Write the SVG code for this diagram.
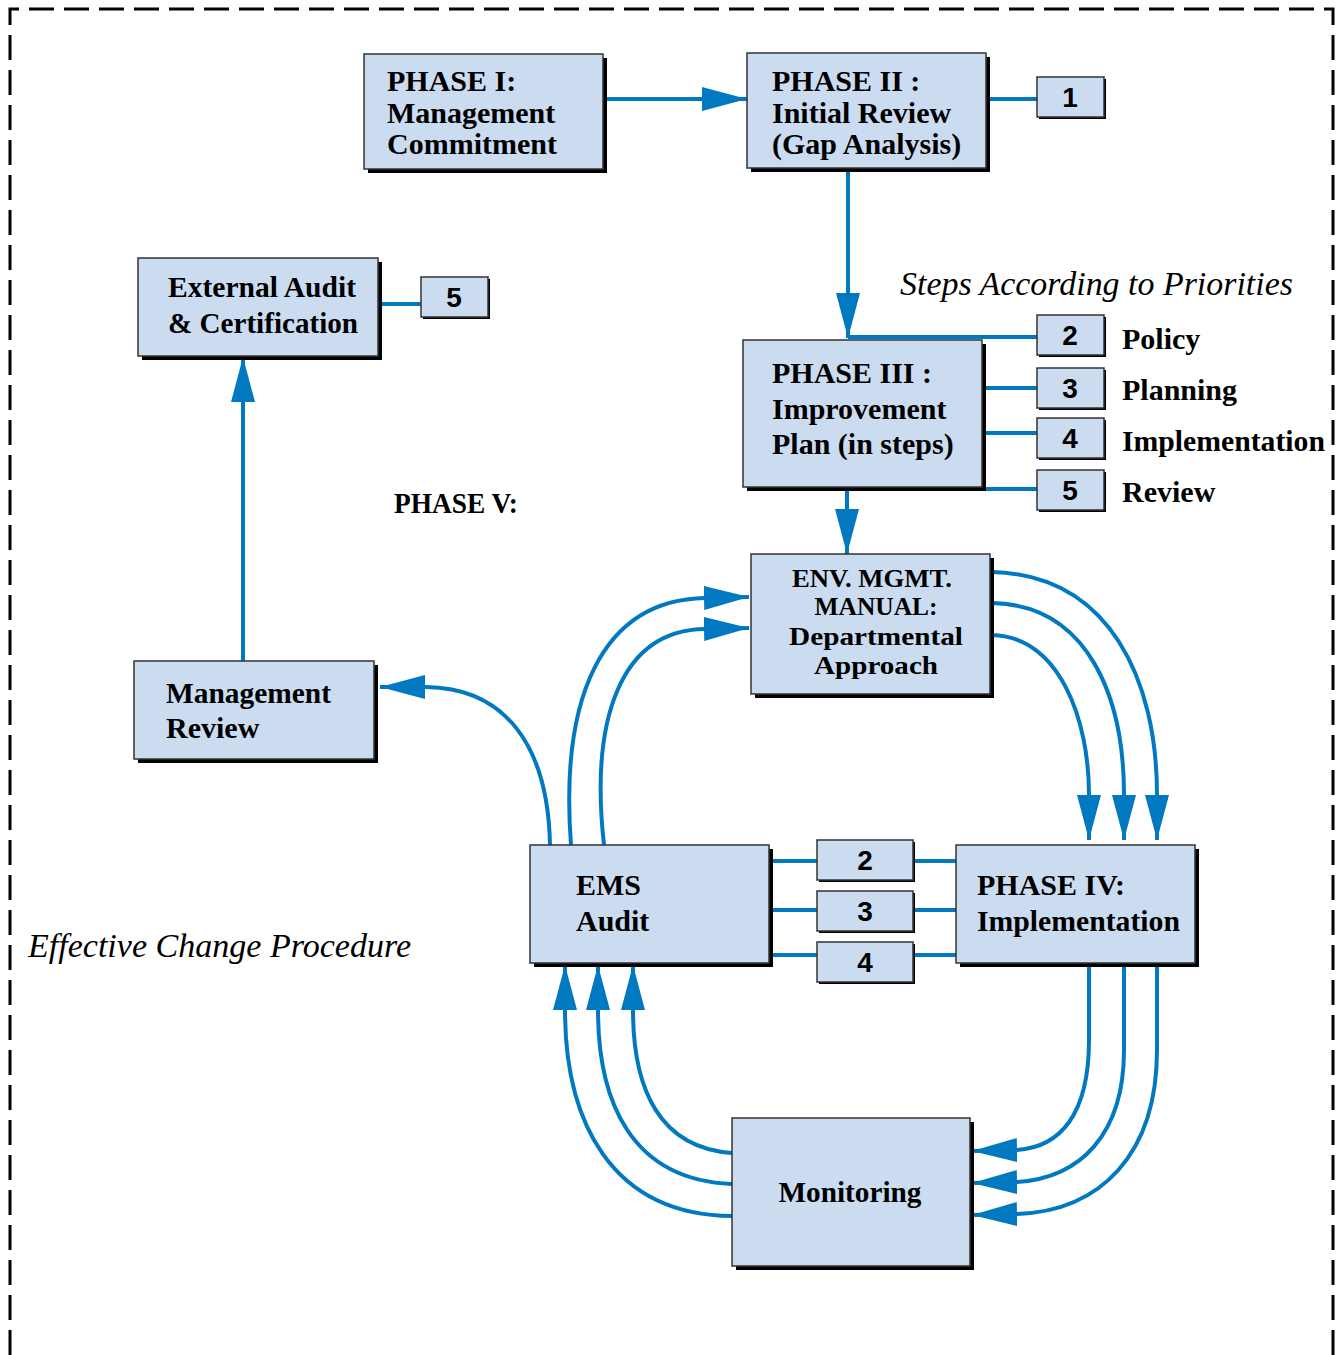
<svg xmlns="http://www.w3.org/2000/svg" width="1336" height="1355" viewBox="0 0 1336 1355">
<defs>
<style>
.sh{fill:#000}
.bx{fill:#CCDCF0;stroke:#333;stroke-width:1.5}
.t{font-family:"Liberation Serif","Times New Roman",serif;font-weight:bold;font-size:30px;fill:#000}
.e{font-family:"Liberation Serif","Times New Roman",serif;font-weight:bold;font-size:26px;fill:#000;text-anchor:middle}
.n{font-family:"Liberation Sans Narrow","Liberation Sans",Arial,sans-serif;font-weight:bold;font-size:28px;fill:#000;text-anchor:middle}
.it{font-family:"Liberation Serif","Times New Roman",serif;font-style:italic;font-size:33px;fill:#000}
.c{fill:none;stroke:#0079C1;stroke-width:4}
.ca{fill:none;stroke:#0079C1;stroke-width:4;marker-end:url(#ah)}
</style>
<marker id="ah" markerUnits="userSpaceOnUse" markerWidth="46" markerHeight="24" refX="45" refY="12" orient="auto">
<path d="M0,0 L45,12 L0,24 z" fill="#0079C1"/>
</marker>
</defs>
<rect width="1336" height="1355" fill="#fff"/>
<path d="M10,1355 V9 H1333 V1355" fill="none" stroke="#000" stroke-width="3" stroke-dasharray="25,10"/>

<g id="connectors">
<path class="ca" d="M605,99 H747"/>
<path class="c" d="M986,99 H1037"/>
<path class="ca" d="M848,168 V338"/>
<path class="c" d="M848,337 H1037"/>
<path class="c" d="M982,388 H1037"/>
<path class="c" d="M982,433 H1037"/>
<path class="c" d="M848,489 H1037"/>
<path class="ca" d="M847,487 V554"/>
<path class="c" d="M378,304 H421"/>
<path class="ca" d="M243,661 V357"/>
<path class="ca" d="M550,845 C548,745 505,688 426,687 L380,687"/>
<path class="ca" d="M571,845 C560,700 600,600 705,598 L749,597"/>
<path class="ca" d="M604,845 C590,720 620,630 705,629 L749,628"/>
<path class="ca" d="M992,572 C1110,575 1157,680 1157,795 L1157,840"/>
<path class="ca" d="M992,603 C1090,605 1124,700 1124,795 L1124,840"/>
<path class="ca" d="M992,635 C1060,637 1089,720 1089,795 L1089,840"/>
<path class="c" d="M769,861 H956"/>
<path class="c" d="M769,910 H956"/>
<path class="c" d="M769,955 H956"/>
<path class="ca" d="M1089,963 L1089,1040 C1089,1115 1060,1147 1017,1150 L972,1151"/>
<path class="ca" d="M1124,963 L1124,1050 C1124,1135 1080,1178 1017,1182 L972,1183"/>
<path class="ca" d="M1157,963 L1157,1050 C1157,1155 1100,1211 1017,1214 L972,1215"/>
<path class="ca" d="M732,1153 C660,1148 633,1090 633,1010 L633,965"/>
<path class="ca" d="M732,1184 C630,1180 598,1100 598,1010 L598,965"/>
<path class="ca" d="M732,1216 C610,1215 565,1120 565,1010 L565,965"/>
</g>

<g id="phase1">
<rect class="sh" x="368" y="58" width="239" height="115"/>
<rect class="bx" x="364" y="54" width="239" height="115"/>
<text class="t" x="387" y="91">PHASE I:</text>
<text class="t" x="387" y="123">Management</text>
<text class="t" x="387" y="154">Commitment</text>
</g>
<g id="phase2">
<rect class="sh" x="751" y="57" width="239" height="115"/>
<rect class="bx" x="747" y="53" width="239" height="115"/>
<text class="t" x="772" y="91">PHASE II :</text>
<text class="t" x="772" y="123">Initial Review</text>
<text class="t" x="772" y="154">(Gap Analysis)</text>
</g>
<g id="box1">
<rect class="sh" x="1039" y="79" width="67" height="40"/>
<rect class="bx" x="1037" y="77" width="67" height="40"/>
<text class="n" x="1070" y="107">1</text>
</g>
<text class="it" x="900" y="295" textLength="393" lengthAdjust="spacingAndGlyphs">Steps According to Priorities</text>
<g id="phase3">
<rect class="sh" x="747" y="344" width="239" height="147"/>
<rect class="bx" x="743" y="340" width="239" height="147"/>
<text class="t" x="772" y="383">PHASE III :</text>
<text class="t" x="772" y="419">Improvement</text>
<text class="t" x="772" y="454">Plan (in steps)</text>
</g>
<g id="step2">
<rect class="sh" x="1039" y="317" width="67" height="40"/>
<rect class="bx" x="1037" y="315" width="67" height="40"/>
<text class="n" x="1070" y="345">2</text>
<text class="t" x="1122" y="349">Policy</text>
</g>
<g id="step3">
<rect class="sh" x="1039" y="370" width="67" height="40"/>
<rect class="bx" x="1037" y="368" width="67" height="40"/>
<text class="n" x="1070" y="398">3</text>
<text class="t" x="1122" y="400">Planning</text>
</g>
<g id="step4">
<rect class="sh" x="1039" y="420" width="67" height="40"/>
<rect class="bx" x="1037" y="418" width="67" height="40"/>
<text class="n" x="1070" y="448">4</text>
<text class="t" x="1122" y="451" textLength="203" lengthAdjust="spacingAndGlyphs">Implementation</text>
</g>
<g id="step5">
<rect class="sh" x="1039" y="472" width="67" height="40"/>
<rect class="bx" x="1037" y="470" width="67" height="40"/>
<text class="n" x="1070" y="500">5</text>
<text class="t" x="1122" y="502">Review</text>
</g>
<g id="extaudit">
<rect class="sh" x="142" y="262" width="240" height="98"/>
<rect class="bx" x="138" y="258" width="240" height="98"/>
<text class="t" x="168" y="297" textLength="188" lengthAdjust="spacingAndGlyphs">External Audit</text>
<text class="t" x="168" y="333" textLength="190" lengthAdjust="spacingAndGlyphs">&amp; Certification</text>
</g>
<g id="box5">
<rect class="sh" x="423" y="279" width="67" height="40"/>
<rect class="bx" x="421" y="277" width="67" height="40"/>
<text class="n" x="454" y="307">5</text>
</g>
<text class="t" x="394" y="513" textLength="124" lengthAdjust="spacingAndGlyphs">PHASE V:</text>
<g id="env">
<rect class="sh" x="755" y="558" width="239" height="140"/>
<rect class="bx" x="751" y="554" width="239" height="140"/>
<text class="e" x="872" y="587" textLength="160" lengthAdjust="spacingAndGlyphs">ENV. MGMT.</text>
<text class="e" x="876" y="615" textLength="123" lengthAdjust="spacingAndGlyphs">MANUAL:</text>
<text class="e" x="876" y="645" textLength="174" lengthAdjust="spacingAndGlyphs">Departmental</text>
<text class="e" x="876" y="674" textLength="124" lengthAdjust="spacingAndGlyphs">Approach</text>
</g>
<g id="mgmtreview">
<rect class="sh" x="138" y="665" width="240" height="98"/>
<rect class="bx" x="134" y="661" width="240" height="98"/>
<text class="t" x="166" y="703" textLength="165" lengthAdjust="spacingAndGlyphs">Management</text>
<text class="t" x="166" y="738">Review</text>
</g>
<g id="emsaudit">
<rect class="sh" x="534" y="849" width="239" height="118"/>
<rect class="bx" x="530" y="845" width="239" height="118"/>
<text class="t" x="576" y="895">EMS</text>
<text class="t" x="576" y="931">Audit</text>
</g>
<g id="mid2">
<rect class="sh" x="819" y="842" width="96" height="40"/>
<rect class="bx" x="817" y="840" width="96" height="40"/>
<text class="n" x="865" y="870">2</text>
</g>
<g id="mid3">
<rect class="sh" x="819" y="893" width="96" height="40"/>
<rect class="bx" x="817" y="891" width="96" height="40"/>
<text class="n" x="865" y="921">3</text>
</g>
<g id="mid4">
<rect class="sh" x="819" y="944" width="96" height="40"/>
<rect class="bx" x="817" y="942" width="96" height="40"/>
<text class="n" x="865" y="972">4</text>
</g>
<g id="phase4">
<rect class="sh" x="960" y="849" width="239" height="118"/>
<rect class="bx" x="956" y="845" width="239" height="118"/>
<text class="t" x="977" y="895">PHASE IV:</text>
<text class="t" x="977" y="931" textLength="203" lengthAdjust="spacingAndGlyphs">Implementation</text>
</g>
<text class="it" x="28" y="957" textLength="383" lengthAdjust="spacingAndGlyphs">Effective Change Procedure</text>
<g id="monitoring">
<rect class="sh" x="736" y="1122" width="238" height="148"/>
<rect class="bx" x="732" y="1118" width="238" height="148"/>
<text class="t" x="850" y="1202" text-anchor="middle" textLength="143" lengthAdjust="spacingAndGlyphs">Monitoring</text>
</g>
</svg>
